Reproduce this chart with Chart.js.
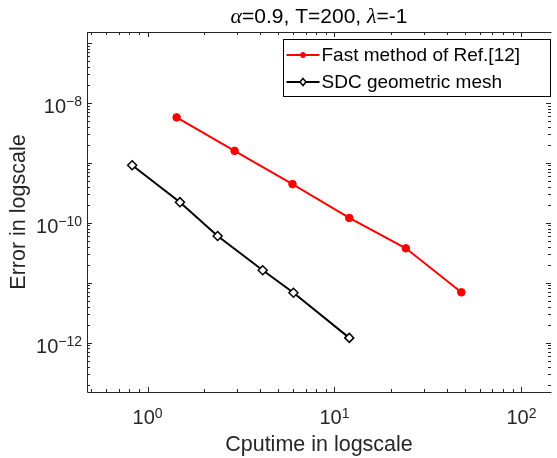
<!DOCTYPE html>
<html lang="en">
<head>
    <meta charset="UTF-8">
    <title>SDC vs fast method</title>
    <script src="https://cdn.jsdelivr.net/npm/chart.js"></script>
    <style>
        body { margin: 0; background: #fff; }
        canvas { display: block; }
    </style>
</head>
<body>
    <canvas id="errChart" width="557" height="458"></canvas>

    <script>
        // values
        const fastTime = [1.43, 2.92, 5.96, 12.0, 24.1, 47.7];
        const fastErr = [5.7e-9, 1.58e-9, 4.4e-10, 1.2e-10, 3.74e-11, 6.9e-12];
        const sdcTime = [0.827, 1.49, 2.37, 4.13, 6.03, 12.0];
        const sdcErr = [9.1e-10, 2.2e-10, 6.0e-11, 1.61e-11, 6.8e-12, 1.2e-12];

        const seriesNames = ['Fast method of Ref.[12]', 'SDC geometric mesh'];
        const xDecades = [0, 1, 2];
        const yLabelDecades = [-12, -10, -8];

        const xRange = [0.474, 144];
        const yRange = [1.503e-13, 1.514e-7];

        const axisColor = '#262626';
        const font = '"Liberation Sans", Arial, sans-serif';

        function toPoints(xs, ys) {
            return xs.map((x, i) => ({ x: x, y: ys[i] }));
        }

        // label "10" with a raised exponent
        function powerLabel(ctx, exp, x, y, align, rise) {
            const base = '10', sup = String(exp).replace('-', '\u2212');
            ctx.font = '20px ' + font;
            const wb = ctx.measureText(base).width;
            ctx.font = '14px ' + font;
            const ws = ctx.measureText(sup).width;
            let left = x;
            if (align === 'center') left = x - (wb + ws) / 2;
            if (align === 'right') left = x - (wb + ws);
            ctx.textAlign = 'left';
            ctx.textBaseline = 'alphabetic';
            ctx.font = '20px ' + font;
            ctx.fillText(base, left, y);
            ctx.font = '14px ' + font;
            ctx.fillText(sup, left + wb, y - rise);
        }

        const matlabAxes = {
            id: 'matlabAxes',
            afterDatasetsDraw(chart) {
                const ctx = chart.ctx;
                const a = chart.chartArea;
                const xs = chart.scales.x, ys = chart.scales.y;
                ctx.save();
                ctx.strokeStyle = axisColor;
                ctx.fillStyle = axisColor;
                ctx.lineWidth = 1;

                // box
                ctx.beginPath();
                ctx.moveTo(a.left + 0.5, a.top + 0.5);
                ctx.lineTo(a.right + 0.5, a.top + 0.5);
                ctx.moveTo(a.left + 0.5, a.top);
                ctx.lineTo(a.left + 0.5, a.bottom + 0.5);
                ctx.lineTo(a.right + 0.5, a.bottom + 0.5);
                ctx.stroke();

                // ticks, major at each decade, minor at 2..9
                ctx.beginPath();
                for (let d = -1; d <= 2; d++) {
                    for (let m = 1; m <= 9; m++) {
                        const v = m * Math.pow(10, d);
                        if (v < xRange[0] || v > xRange[1]) continue;
                        const px = Math.round(xs.getPixelForValue(v)) + 0.5;
                        const len = m === 1 ? 5 : 3;
                        ctx.moveTo(px, a.bottom);
                        ctx.lineTo(px, a.bottom - len);
                        ctx.moveTo(px, a.top);
                        ctx.lineTo(px, a.top + len);
                    }
                }
                for (let d = -13; d <= -7; d++) {
                    for (let m = 1; m <= 9; m++) {
                        const v = m * Math.pow(10, d);
                        if (v < yRange[0] || v > yRange[1]) continue;
                        const py = Math.round(ys.getPixelForValue(v)) + 0.5;
                        const len = m === 1 ? 5 : 3;
                        ctx.moveTo(a.left, py);
                        ctx.lineTo(a.left + len, py);
                        ctx.moveTo(a.right, py);
                        ctx.lineTo(a.right - len, py);
                    }
                }
                ctx.stroke();

                // tick labels
                xDecades.forEach(d => {
                    powerLabel(ctx, d, xs.getPixelForValue(Math.pow(10, d)), a.bottom + 32, 'center', 6);
                });
                yLabelDecades.forEach(d => {
                    powerLabel(ctx, d, a.left - 5, ys.getPixelForValue(Math.pow(10, d)) + 10.5, 'right', 7);
                });

                // axis titles
                ctx.font = '21.5px ' + font;
                ctx.textAlign = 'center';
                ctx.textBaseline = 'alphabetic';
                ctx.fillText('Cputime in logscale', (a.left + a.right) / 2, 451);
                ctx.save();
                ctx.translate(25, (a.top + a.bottom) / 2);
                ctx.rotate(-Math.PI / 2);
                ctx.fillText('Error in logscale', 0, 0);
                ctx.restore();

                // title with greek letters in italic
                ctx.fillStyle = '#000';
                const parts = [['\u03b1', true], ['=0.9, T=200, ', false], ['\u03bb', true], ['=-1', false]];
                const greekFont = 'italic 22px "Liberation Serif", serif';
                let total = 0;
                parts.forEach(p => {
                    ctx.font = p[1] ? greekFont : '21px ' + font;
                    total += ctx.measureText(p[0]).width;
                });
                let tx = (a.left + a.right) / 2 - total / 2;
                ctx.textAlign = 'left';
                parts.forEach(p => {
                    ctx.font = p[1] ? greekFont : '21px ' + font;
                    ctx.fillText(p[0], tx, 23);
                    tx += ctx.measureText(p[0]).width;
                });

                // legend
                const lx = 283.5, ly = 39.5, lw = 267, lh = 57;
                ctx.fillStyle = '#fff';
                ctx.fillRect(lx, ly, lw, lh);
                ctx.strokeStyle = '#000';
                ctx.strokeRect(lx, ly, lw, lh);
                chart.data.datasets.forEach((ds, i) => {
                    const cy = ly + 15.5 + i * 27;
                    ctx.strokeStyle = ds.borderColor;
                    ctx.lineWidth = 2;
                    ctx.beginPath();
                    ctx.moveTo(lx + 3, cy);
                    ctx.lineTo(lx + 36, cy);
                    ctx.stroke();
                    ctx.lineWidth = ds.pointBorderWidth || 1;
                    ctx.fillStyle = ds.pointBackgroundColor;
                    ctx.beginPath();
                    if (ds.pointStyle === 'circle') {
                        ctx.arc(lx + 19.5, cy, 2.5, 0, Math.PI * 2);
                    } else {
                        ctx.moveTo(lx + 19.5, cy - 3.5);
                        ctx.lineTo(lx + 22.5, cy);
                        ctx.lineTo(lx + 19.5, cy + 3.5);
                        ctx.lineTo(lx + 16.5, cy);
                        ctx.closePath();
                    }
                    ctx.fill();
                    ctx.stroke();
                    ctx.fillStyle = '#000';
                    ctx.font = '19px ' + font;
                    ctx.textAlign = 'left';
                    ctx.textBaseline = 'middle';
                    ctx.fillText(ds.label, lx + 38, cy + 1);
                });
                ctx.restore();
            }
        };

        const errChart = new Chart(document.getElementById('errChart'), {
            type: 'line',
            data: {
                datasets: [{
                    label: seriesNames[0],
                    data: toPoints(fastTime, fastErr),
                    borderColor: '#ff0000',
                    backgroundColor: '#ff0000',
                    pointBackgroundColor: '#ff0000',
                    pointBorderColor: '#ff0000',
                    pointStyle: 'circle',
                    pointRadius: 3.8,
                    pointBorderWidth: 1,
                    borderWidth: 2
                }, {
                    label: seriesNames[1],
                    data: toPoints(sdcTime, sdcErr),
                    borderColor: '#000000',
                    backgroundColor: '#ffffff',
                    pointBackgroundColor: '#ffffff',
                    pointBorderColor: '#000000',
                    pointStyle: 'rectRot',
                    pointRadius: 4.5,
                    pointBorderWidth: 1.5,
                    borderWidth: 2
                }]
            },
            options: {
                responsive: false,
                animation: false,
                layout: { padding: { left: 87, top: 32, right: 0, bottom: 66 } },
                scales: {
                    x: { type: 'logarithmic', min: xRange[0], max: xRange[1], display: false },
                    y: { type: 'logarithmic', min: yRange[0], max: yRange[1], display: false }
                },
                plugins: {
                    legend: { display: false },
                    title: { display: false },
                    tooltip: { enabled: false }
                }
            },
            plugins: [matlabAxes]
        });
    </script>
</body>
</html>
